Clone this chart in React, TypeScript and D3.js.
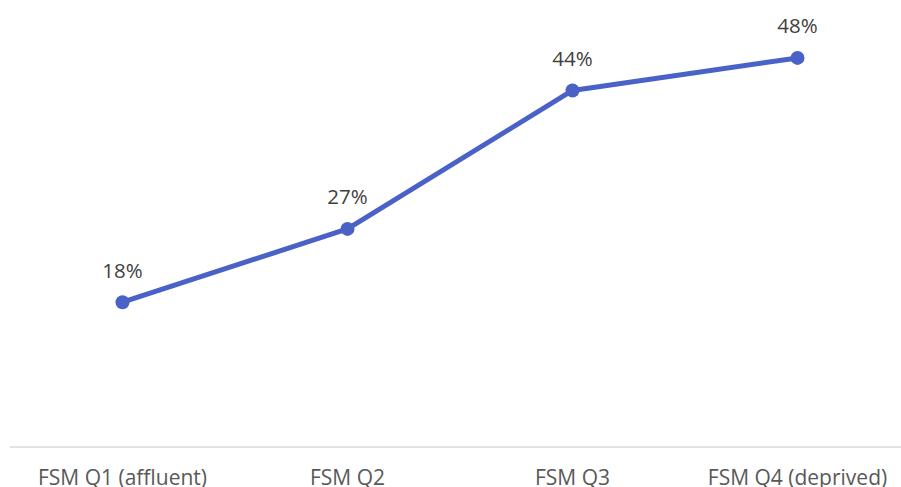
import React from "react";
import * as d3 from "d3";

const categories: string[] = ["FSM Q1 (affluent)", "FSM Q2", "FSM Q3", "FSM Q4 (deprived)"];
const values: number[] = [18, 27, 44, 48];
const valueLabels: string[] = ["18%", "27%", "44%", "48%"];

const W = 901;
const H = 487;

export default function App() {
  const x = d3.scaleBand<string>().domain(categories).range([10, 910]).padding(0);
  const y = d3.scaleLinear().domain([0, 55]).range([448.8, 0.9]);
  const cx = (c: string) => (x(c) as number) + x.bandwidth() / 2;

  const line = d3
    .line<number>()
    .x((_, i) => cx(categories[i]))
    .y((d) => y(d));

  return (
    <svg
      width={W}
      height={H}
      style={{ position: "absolute", left: 0, top: 0, background: "#fff" }}
      fontFamily="'Open Sans', sans-serif"
    >
      <rect x={0} y={0} width={W} height={H} fill="#fff" />
      <line x1={10} x2={W} y1={447} y2={447} stroke="#d9d9d9" strokeWidth={1.5} />
      {categories.map((c) => (
        <text key={c} x={cx(c)} y={485} textAnchor="middle" fontSize={21} fill="#595959">
          {c}
        </text>
      ))}
      <path d={line(values) || ""} fill="none" stroke="#4a61c8" strokeWidth={5} strokeLinejoin="round" />
      {values.map((v, i) => (
        <circle key={i} cx={cx(categories[i])} cy={y(v)} r={7} fill="#4a61c8" />
      ))}
      {values.map((v, i) => (
        <text
          key={"l" + i}
          x={cx(categories[i])}
          y={y(v) - 24.5}
          textAnchor="middle"
          fontSize={20.5}
          fill="#404040"
        >
          {valueLabels[i]}
        </text>
      ))}
    </svg>
  );
}
